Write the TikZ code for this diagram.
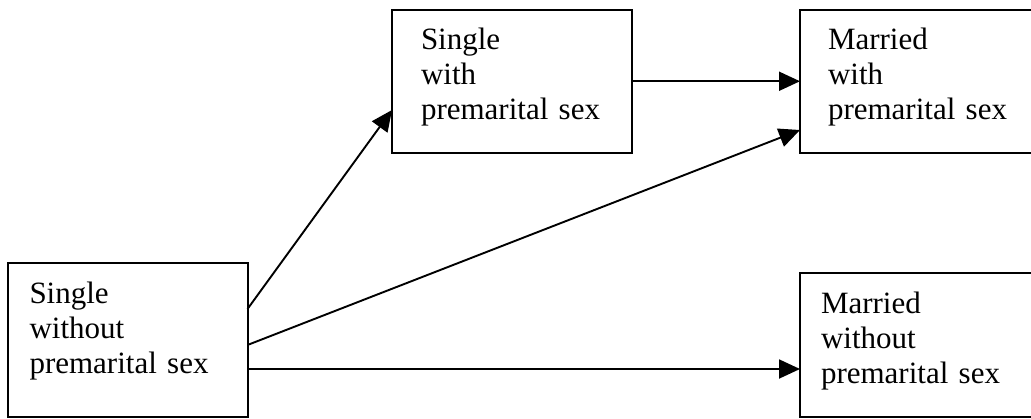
\documentclass[tikz,border=0pt]{standalone}
\usepackage{fontspec}
\setmainfont{Liberation Serif}
\usetikzlibrary{arrows.meta}

\tikzset{
    statebox/.style={draw, line width=2pt, anchor=north west, outer sep=0pt,
        inner xsep=0pt, inner ysep=0pt, text width=240pt, align=left,
        text height=40pt, font=\fontsize{31pt}{35pt}\selectfont},
    pad/.style={execute at begin node={\leftskip=#1}},
    flow/.style={line width=1.9pt, -{Triangle[length=21pt, width=19pt]}}
}

\begin{document}
\begin{tikzpicture}[x=1pt, y=-1pt]
    \path[use as bounding box, clip] (0, 0) rectangle (1031, 418);

    \node[statebox, pad=22pt, text depth=114pt] (sngNo) at (7.5, 263) {Single\\without\\premarital sex};
    \node[statebox, pad=29pt, text depth=103.5pt] (sngYes) at (392, 9.5) {Single\\with\\premarital sex};
    \node[statebox, pad=28pt, text depth=103.5pt, text width=280pt] (marYes) at (800, 9.5) {Married\\with\\premarital sex};
    \node[statebox, pad=21pt, text depth=104pt, text width=280pt] (marNo) at (800, 273) {Married\\without\\premarital sex};

    \coordinate (outB) at ([yshift=-46pt]sngNo.north east);
    \coordinate (outC) at ([yshift=-82pt]sngNo.north east);
    \coordinate (outD) at ([yshift=-106pt]sngNo.north east);

    \draw[flow] (outB) -- ([yshift=-100.5pt]sngYes.north west);
    \draw[flow] (outC) -- ([yshift=-120.5pt]marYes.north west);
    \draw[flow] (outD) -- (outD -| marNo.west);
    \draw[flow] (sngYes) -- (marYes.west |- sngYes);
\end{tikzpicture}
\end{document}
